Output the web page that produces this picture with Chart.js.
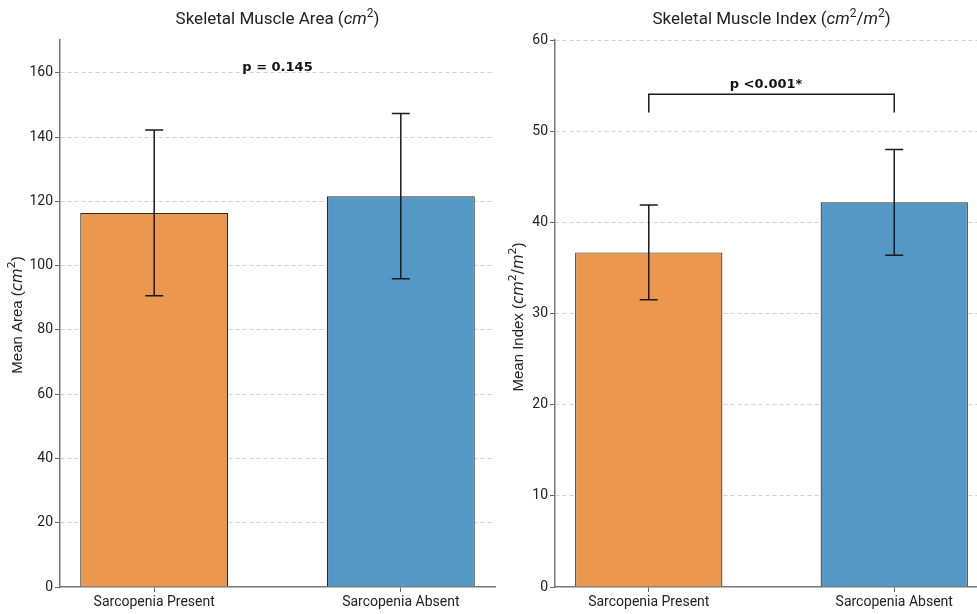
<!DOCTYPE html>
<html>
<head>
<meta charset="utf-8">
<script src="https://cdn.jsdelivr.net/npm/chart.js@4/dist/chart.umd.min.js"></script>
<style>
  html, body { margin: 0; padding: 0; background: #fff; }
  #wrap { position: relative; width: 977px; height: 614px; overflow: hidden; }
  canvas { position: absolute; top: 0; }
  #areaChart { left: 0; }
  #indexChart { left: 495px; }
</style>
</head>
<body>
<div id="wrap">
  <canvas id="areaChart" width="500" height="614"></canvas>
  <canvas id="indexChart" width="500" height="614"></canvas>
</div>
<script>
// Group labels and summary statistics (mean ± SD)
const groups = ['Sarcopenia Present', 'Sarcopenia Absent'];
const areaMean = [116.4, 121.6];
const areaSD = [25.8, 25.7];
const indexMean = [36.7, 42.2];
const indexSD = [5.2, 5.8];
const areaTicks = [0, 20, 40, 60, 80, 100, 120, 140, 160];
const indexTicks = [0, 10, 20, 30, 40, 50, 60];
const areaP = 'p = 0.145';
const indexP = 'p <0.001*';

const barColors = ['#EB984E', '#5498C6'];
const FONT = 'Roboto, "Open Sans", sans-serif';
const LABEL_FONT = '"Liberation Sans", Arial, sans-serif';
const MATH_FONT = '"DejaVu Sans", sans-serif';
const BOLD_FONT = '"DejaVu Sans", sans-serif';

// Draw a label made of plain, italic and superscript pieces, centred on (x, y)
function richText(ctx, parts, x, y, size, rotate, family, mathFamily) {
  ctx.save();
  ctx.translate(x, y);
  if (rotate) ctx.rotate(-Math.PI / 2);
  const fontFor = p => (p.i ? 'italic ' : '') + (p.sup ? Math.round(size * 0.7) : size) + 'px ' +
    ((p.i || p.sup || p.m) ? mathFamily : family);
  let total = 0;
  parts.forEach(p => { ctx.font = fontFor(p); p.w = ctx.measureText(p.t).width; total += p.w; });
  let cx = -total / 2;
  ctx.textBaseline = 'middle';
  ctx.textAlign = 'left';
  ctx.fillStyle = '#222';
  parts.forEach(p => {
    ctx.font = fontFor(p);
    ctx.fillText(p.t, cx, p.sup ? -size * 0.38 : 0);
    cx += p.w;
  });
  ctx.restore();
}

function annotations(cfg) {
  return {
    id: 'annotations',
    afterDatasetsDraw(chart) {
      const ctx = chart.ctx, xs = chart.scales.x, ys = chart.scales.y;
      // error bars
      ctx.save();
      ctx.strokeStyle = '#1a1a1a';
      ctx.lineWidth = 1.5;
      cfg.means.forEach((m, i) => {
        const x = xs.getPixelForValue(i);
        const t = ys.getPixelForValue(m + cfg.sds[i]);
        const b = ys.getPixelForValue(m - cfg.sds[i]);
        ctx.beginPath();
        ctx.moveTo(x, t); ctx.lineTo(x, b);
        ctx.moveTo(x - 9, t); ctx.lineTo(x + 9, t);
        ctx.moveTo(x - 9, b); ctx.lineTo(x + 9, b);
        ctx.stroke();
      });
      // significance bracket
      if (cfg.bracket) {
        const [x0, x1, yLow, yHigh] = cfg.bracket;
        ctx.beginPath();
        ctx.moveTo(xs.getPixelForValue(x0), ys.getPixelForValue(yLow));
        ctx.lineTo(xs.getPixelForValue(x0), ys.getPixelForValue(yHigh));
        ctx.lineTo(xs.getPixelForValue(x1), ys.getPixelForValue(yHigh));
        ctx.lineTo(xs.getPixelForValue(x1), ys.getPixelForValue(yLow));
        ctx.stroke();
      }
      // p-value
      ctx.fillStyle = '#111';
      ctx.font = 'bold 13px ' + BOLD_FONT;
      ctx.textAlign = 'center';
      ctx.textBaseline = 'alphabetic';
      ctx.fillText(cfg.pText, xs.getPixelForValue(cfg.pPos[0]), ys.getPixelForValue(cfg.pPos[1]));
      ctx.restore();
    },
    afterDraw(chart) {
      const ctx = chart.ctx, area = chart.chartArea;
      richText(ctx, cfg.title, (area.left + area.right) / 2, 20, 17, false, FONT, FONT);
      richText(ctx, cfg.yLabel, cfg.yLabelX, cfg.yLabelY, 15, true, LABEL_FONT, MATH_FONT);
    }
  };
}

function makeChart(id, means, sds, ticks, yMax, cfg) {
  return new Chart(document.getElementById(id), {
    type: 'bar',
    data: {
      datasets: [{
        data: means.map((v, i) => ({ x: i, y: v })),
        backgroundColor: barColors,
        borderColor: '#2a2a2a',
        borderWidth: 1.2,
        barPercentage: 0.6,
        categoryPercentage: 1
      }]
    },
    options: {
      responsive: false,
      animation: false,
      devicePixelRatio: 1,
      layout: { padding: { top: 40, left: 0, right: cfg.padRight, bottom: 0 } },
      plugins: { legend: { display: false }, tooltip: { enabled: false }, title: { display: false } },
      scales: {
        x: {
          type: 'linear',
          min: -0.382,
          max: 1.382,
          offset: false,
          afterBuildTicks: s => { s.ticks = groups.map((g, i) => ({ value: i })); },
          afterFit: s => { s.height = 27; },
          ticks: {
            callback: v => groups[v],
            color: '#222',
            font: { family: FONT, size: 14 },
            padding: 2,
            maxRotation: 0,
            autoSkip: false
          },
          grid: { offset: false, drawOnChartArea: false, drawTicks: true, tickLength: 5, tickColor: '#666', tickWidth: 1 },
          border: { display: true, color: '#777', width: 1.5 }
        },
        y: {
          min: 0,
          max: yMax,
          afterBuildTicks: s => { s.ticks = ticks.map(v => ({ value: v })); },
          afterFit: s => { s.width = 60; },
          ticks: { color: '#222', font: { family: FONT, size: 14 }, padding: 2 },
          grid: {
            color: c => (c.tick && c.tick.value === 0) ? 'rgba(0,0,0,0)' : '#d2d2d2',
            lineWidth: 1,
            tickLength: 5,
            tickColor: '#666',
            tickWidth: 1
          },
          border: { display: true, color: '#777', width: 1.5, dash: [4, 3] }
        }
      }
    },
    plugins: [annotations(Object.assign({ means, sds }, cfg))]
  });
}

makeChart('areaChart', areaMean, areaSD, areaTicks, 170.2, {
  padRight: 5,
  title: [{ t: 'Skeletal Muscle Area (' }, { t: 'cm', i: true }, { t: '2', sup: true }, { t: ')' }],
  yLabel: [{ t: 'Mean Area (' }, { t: 'cm', i: true }, { t: '2', sup: true }, { t: ')' }],
  yLabelX: 18,
  yLabelY: 315,
  pText: areaP,
  pPos: [0.5, 160.4]
});

makeChart('indexChart', indexMean, indexSD, indexTicks, 60, {
  padRight: 7,
  title: [{ t: 'Skeletal Muscle Index (' }, { t: 'cm', i: true }, { t: '2', sup: true }, { t: '/' }, { t: 'm', i: true }, { t: '2', sup: true }, { t: ')' }],
  yLabel: [{ t: 'Mean Index (' }, { t: 'cm', i: true }, { t: '2', sup: true }, { t: '/', m: true }, { t: 'm', i: true }, { t: '2', sup: true }, { t: ')' }],
  yLabelX: 24,
  yLabelY: 317,
  pText: indexP,
  pPos: [0.478, 54.7],
  bracket: [0, 1, 52.05, 54.05]
});
</script>
</body>
</html>
